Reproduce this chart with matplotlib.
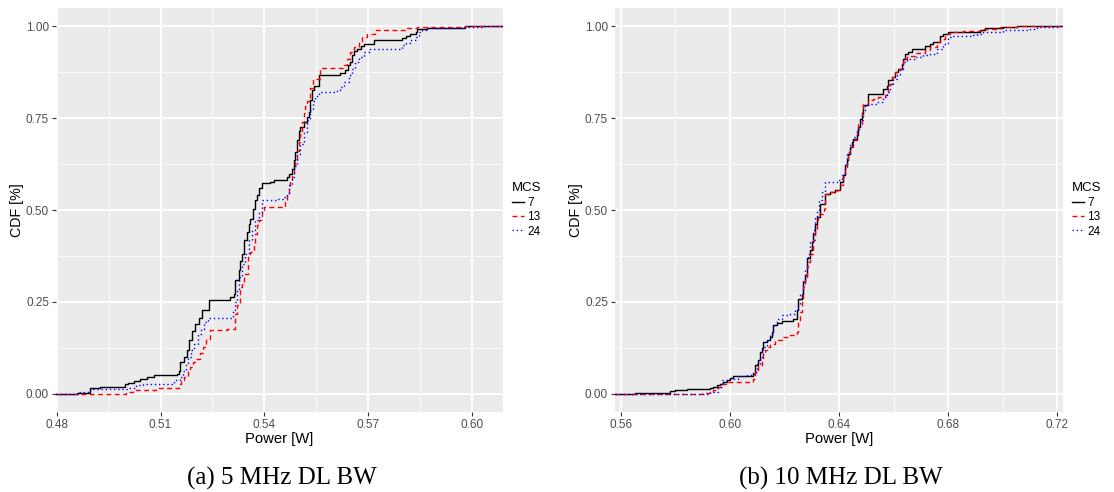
import matplotlib
matplotlib.use("Agg")
import matplotlib.pyplot as plt
from matplotlib.ticker import FixedLocator

plt.rcParams["font.family"] = ["Liberation Sans", "DejaVu Sans"]

# ECDF steps: (power [W], cdf)
mcs = ["7", "13", "24"]

bw5_mcs7 = [
    (0.4858, 0.003), (0.4896, 0.014), (0.4924, 0.018), (0.4998, 0.025), (0.5007, 0.030),
    (0.5022, 0.035), (0.5041, 0.040), (0.5060, 0.045), (0.5080, 0.050), (0.5147, 0.054),
    (0.5152, 0.063), (0.5157, 0.086), (0.5167, 0.100), (0.5176, 0.120), (0.5181, 0.145),
    (0.5191, 0.170), (0.5200, 0.190), (0.5210, 0.207), (0.5220, 0.229), (0.5239, 0.254),
    (0.5302, 0.262), (0.5311, 0.270), (0.5316, 0.309), (0.5326, 0.336), (0.5331, 0.360),
    (0.5335, 0.381), (0.5342, 0.417), (0.5350, 0.440), (0.5355, 0.462), (0.5359, 0.476),
    (0.5366, 0.504), (0.5374, 0.526), (0.5379, 0.540), (0.5384, 0.561), (0.5393, 0.573),
    (0.5417, 0.577), (0.5427, 0.581), (0.5466, 0.590), (0.5470, 0.599), (0.5480, 0.612),
    (0.5485, 0.635), (0.5490, 0.658), (0.5494, 0.690), (0.5499, 0.715), (0.5504, 0.725),
    (0.5514, 0.740), (0.5523, 0.753), (0.5528, 0.767), (0.5533, 0.800), (0.5538, 0.826),
    (0.5543, 0.839), (0.5557, 0.868), (0.5620, 0.873), (0.5634, 0.880), (0.5641, 0.894),
    (0.5647, 0.903), (0.5654, 0.921), (0.5658, 0.932), (0.5668, 0.939), (0.5678, 0.946),
    (0.5687, 0.953), (0.5718, 0.962), (0.5798, 0.968), (0.5808, 0.975), (0.5822, 0.980),
    (0.5837, 0.986), (0.5842, 0.993), (0.5871, 0.996), (0.5981, 1.000),
]

bw5_mcs13 = [
    (0.5001, 0.005), (0.5020, 0.009), (0.5087, 0.014), (0.5126, 0.016), (0.5155, 0.027),
    (0.5160, 0.036), (0.5169, 0.045), (0.5179, 0.063), (0.5184, 0.072), (0.5193, 0.086),
    (0.5203, 0.095), (0.5213, 0.110), (0.5222, 0.127), (0.5232, 0.150), (0.5242, 0.172),
    (0.5293, 0.177), (0.5314, 0.218), (0.5321, 0.240), (0.5330, 0.290), (0.5335, 0.305),
    (0.5340, 0.327), (0.5354, 0.372), (0.5359, 0.385), (0.5369, 0.408), (0.5374, 0.436),
    (0.5379, 0.458), (0.5384, 0.472), (0.5393, 0.499), (0.5398, 0.508), (0.5461, 0.522),
    (0.5466, 0.540), (0.5470, 0.562), (0.5475, 0.580), (0.5480, 0.594), (0.5485, 0.612),
    (0.5490, 0.635), (0.5494, 0.662), (0.5499, 0.685), (0.5504, 0.708), (0.5509, 0.740),
    (0.5514, 0.765), (0.5518, 0.783), (0.5523, 0.798), (0.5531, 0.832), (0.5542, 0.858),
    (0.5560, 0.887), (0.5629, 0.894), (0.5639, 0.912), (0.5649, 0.930), (0.5658, 0.944),
    (0.5673, 0.957), (0.5683, 0.971), (0.5697, 0.980), (0.5721, 0.989), (0.5798, 0.991),
    (0.5813, 0.995), (0.5842, 0.998), (0.5981, 1.000),
]

bw5_mcs24 = [
    (0.4861, 0.005), (0.4894, 0.009), (0.4899, 0.012), (0.5010, 0.014), (0.5029, 0.023),
    (0.5049, 0.027), (0.5140, 0.036), (0.5155, 0.045), (0.5165, 0.063), (0.5174, 0.082),
    (0.5179, 0.100), (0.5189, 0.118), (0.5198, 0.136), (0.5208, 0.163), (0.5218, 0.177),
    (0.5227, 0.195), (0.5237, 0.207), (0.5309, 0.227), (0.5314, 0.249), (0.5320, 0.280),
    (0.5326, 0.318), (0.5335, 0.354), (0.5345, 0.381), (0.5355, 0.417), (0.5364, 0.445),
    (0.5374, 0.472), (0.5384, 0.494), (0.5393, 0.526), (0.5436, 0.530), (0.5456, 0.535),
    (0.5466, 0.545), (0.5470, 0.567), (0.5480, 0.590), (0.5485, 0.621), (0.5494, 0.653),
    (0.5504, 0.680), (0.5514, 0.712), (0.5523, 0.744), (0.5533, 0.771), (0.5542, 0.798),
    (0.5547, 0.810), (0.5557, 0.821), (0.5610, 0.826), (0.5620, 0.835), (0.5629, 0.848),
    (0.5644, 0.867), (0.5654, 0.885), (0.5663, 0.903), (0.5673, 0.917), (0.5687, 0.930),
    (0.5702, 0.939), (0.5798, 0.948), (0.5808, 0.955), (0.5822, 0.962), (0.5837, 0.971),
    (0.5846, 0.985), (0.5856, 0.991), (0.5871, 0.995), (0.5977, 0.997), (0.6030, 1.000),
]

bw10_mcs7 = [
    (0.5653, 0.003), (0.5781, 0.007), (0.5799, 0.009), (0.5842, 0.012), (0.5927, 0.015),
    (0.5939, 0.018), (0.5952, 0.023), (0.5964, 0.027), (0.5976, 0.032), (0.5988, 0.036),
    (0.6001, 0.043), (0.6013, 0.047), (0.6031, 0.049), (0.6086, 0.054), (0.6092, 0.077),
    (0.6104, 0.091), (0.6110, 0.113), (0.6117, 0.123), (0.6123, 0.141), (0.6135, 0.145),
    (0.6147, 0.154), (0.6153, 0.168), (0.6159, 0.186), (0.6171, 0.191), (0.6190, 0.198),
    (0.6233, 0.204), (0.6245, 0.227), (0.6251, 0.259), (0.6263, 0.272), (0.6269, 0.304),
    (0.6275, 0.322), (0.6281, 0.368), (0.6293, 0.390), (0.6300, 0.413), (0.6306, 0.436),
    (0.6312, 0.463), (0.6318, 0.481), (0.6330, 0.517), (0.6349, 0.544), (0.6367, 0.549),
    (0.6385, 0.555), (0.6403, 0.576), (0.6416, 0.594), (0.6422, 0.622), (0.6428, 0.635),
    (0.6434, 0.653), (0.6440, 0.672), (0.6446, 0.685), (0.6452, 0.694), (0.6465, 0.703),
    (0.6471, 0.726), (0.6477, 0.749), (0.6483, 0.762), (0.6489, 0.785), (0.6507, 0.817),
    (0.6562, 0.830), (0.6574, 0.839), (0.6581, 0.853), (0.6593, 0.862), (0.6605, 0.876),
    (0.6617, 0.885), (0.6629, 0.898), (0.6635, 0.912), (0.6642, 0.926), (0.6654, 0.930),
    (0.6666, 0.939), (0.6715, 0.946), (0.6733, 0.953), (0.6745, 0.957), (0.6770, 0.975),
    (0.6782, 0.980), (0.6800, 0.984), (0.6916, 0.991), (0.6935, 0.996), (0.7002, 0.998),
    (0.7051, 1.000),
]

bw10_mcs13 = [
    (0.5897, 0.003), (0.5927, 0.005), (0.5939, 0.009), (0.5958, 0.018), (0.5970, 0.027),
    (0.5988, 0.032), (0.6086, 0.041), (0.6092, 0.064), (0.6104, 0.077), (0.6117, 0.095),
    (0.6123, 0.109), (0.6129, 0.118), (0.6135, 0.127), (0.6147, 0.136), (0.6165, 0.145),
    (0.6190, 0.154), (0.6220, 0.159), (0.6245, 0.168), (0.6251, 0.200), (0.6257, 0.222),
    (0.6263, 0.254), (0.6269, 0.290), (0.6275, 0.309), (0.6281, 0.345), (0.6287, 0.358),
    (0.6293, 0.381), (0.6306, 0.417), (0.6312, 0.445), (0.6318, 0.472), (0.6324, 0.490),
    (0.6343, 0.504), (0.6349, 0.544), (0.6367, 0.549), (0.6391, 0.555), (0.6403, 0.567),
    (0.6416, 0.590), (0.6422, 0.617), (0.6428, 0.640), (0.6434, 0.658), (0.6440, 0.672),
    (0.6452, 0.690), (0.6465, 0.712), (0.6471, 0.735), (0.6483, 0.767), (0.6489, 0.789),
    (0.6507, 0.799), (0.6526, 0.803), (0.6544, 0.808), (0.6568, 0.812), (0.6581, 0.844),
    (0.6593, 0.862), (0.6605, 0.876), (0.6617, 0.885), (0.6629, 0.898), (0.6635, 0.912),
    (0.6648, 0.918), (0.6678, 0.927), (0.6715, 0.935), (0.6733, 0.944), (0.6758, 0.957),
    (0.6770, 0.966), (0.6788, 0.980), (0.6806, 0.984), (0.6855, 0.987), (0.6922, 0.993),
    (0.6990, 0.998), (0.7051, 1.000),
]

bw10_mcs24 = [
    (0.5927, 0.005), (0.5958, 0.018), (0.5970, 0.036), (0.5988, 0.039), (0.6007, 0.041),
    (0.6031, 0.047), (0.6062, 0.050), (0.6086, 0.059), (0.6098, 0.082), (0.6110, 0.100),
    (0.6123, 0.127), (0.6135, 0.145), (0.6147, 0.163), (0.6159, 0.186), (0.6171, 0.204),
    (0.6190, 0.213), (0.6220, 0.218), (0.6239, 0.227), (0.6251, 0.245), (0.6257, 0.272),
    (0.6269, 0.309), (0.6275, 0.336), (0.6281, 0.363), (0.6287, 0.381), (0.6293, 0.413),
    (0.6306, 0.445), (0.6312, 0.481), (0.6318, 0.499), (0.6328, 0.526), (0.6336, 0.549),
    (0.6349, 0.576), (0.6391, 0.583), (0.6410, 0.594), (0.6422, 0.626), (0.6428, 0.653),
    (0.6440, 0.681), (0.6452, 0.699), (0.6465, 0.721), (0.6477, 0.744), (0.6489, 0.767),
    (0.6495, 0.782), (0.6507, 0.789), (0.6538, 0.794), (0.6562, 0.808), (0.6574, 0.821),
    (0.6587, 0.844), (0.6599, 0.858), (0.6611, 0.867), (0.6623, 0.885), (0.6635, 0.903),
    (0.6648, 0.912), (0.6678, 0.917), (0.6709, 0.921), (0.6733, 0.926), (0.6758, 0.939),
    (0.6782, 0.953), (0.6800, 0.971), (0.6812, 0.973), (0.6892, 0.976), (0.6904, 0.980),
    (0.6928, 0.984), (0.7002, 0.989), (0.7099, 0.993), (0.7124, 0.998), (0.7209, 1.000),
]

panels = [
    {
        "series": [bw5_mcs7, bw5_mcs13, bw5_mcs24],
        "xlim": (0.4798, 0.6090),
        "xticks": [0.48, 0.51, 0.54, 0.57, 0.60],
        "xminor": [0.495, 0.525, 0.555, 0.585],
        "caption": "(a) 5 MHz DL BW",
        "rect": [0.0503, 0.1626, 0.4013, 0.8211],
    },
    {
        "series": [bw10_mcs7, bw10_mcs13, bw10_mcs24],
        "xlim": (0.5579, 0.7221),
        "xticks": [0.56, 0.60, 0.64, 0.68, 0.72],
        "xminor": [0.58, 0.62, 0.66, 0.70],
        "caption": "(b) 10 MHz DL BW",
        "rect": [0.5521, 0.1626, 0.4022, 0.8211],
    },
]

yticks = [0.0, 0.25, 0.50, 0.75, 1.00]
yminor = [0.125, 0.375, 0.625, 0.875]

colors = ["black", "#FF0000", "#0000FF"]
styles = ["-", (0, (3.5, 2.5)), (0, (1, 2))]

fig = plt.figure(figsize=(11.14, 4.92), dpi=100)

for p in panels:
    ax = fig.add_axes(p["rect"])
    ax.set_facecolor("#EBEBEB")
    ax.set_xlim(*p["xlim"])
    ax.set_ylim(-0.05, 1.05)
    x0, x1 = ax.get_xlim()

    for steps, lab, c, ls in zip(p["series"], mcs, colors, styles):
        xs = [x0] + [s[0] for s in steps] + [x1]
        ys = [0.0] + [s[1] for s in steps] + [1.0]
        ax.step(xs, ys, where="post", color=c, linestyle=ls, lw=1.0, label=lab)

    ax.xaxis.set_major_locator(FixedLocator(p["xticks"]))
    ax.xaxis.set_minor_locator(FixedLocator(p["xminor"]))
    ax.yaxis.set_major_locator(FixedLocator(yticks))
    ax.yaxis.set_minor_locator(FixedLocator(yminor))
    ax.set_xticklabels([f"{t:.2f}" for t in p["xticks"]])
    ax.set_yticklabels([f"{t:.2f}" for t in yticks])

    ax.grid(which="major", color="white", lw=1.3)
    ax.grid(which="minor", color="white", lw=0.6)
    ax.set_axisbelow(True)
    for sp in ax.spines.values():
        sp.set_visible(False)

    ax.tick_params(which="major", length=3, width=0.8, color="#333333",
                   labelsize=8.5, labelcolor="#4D4D4D", pad=2)
    ax.tick_params(which="minor", length=0)

    ax.set_xlabel("Power [W]", fontsize=10.7, labelpad=1)
    ax.set_ylabel("CDF [%]", fontsize=10.3, labelpad=1.5)

    leg = ax.legend(title="MCS", loc="center left", bbox_to_anchor=(1.01, 0.5),
                    frameon=False, fontsize=8.5, title_fontsize=9.5,
                    handlelength=1.0, handletextpad=0.25, labelspacing=0.2,
                    borderaxespad=0.2, borderpad=0.2, alignment="left")

    r = p["rect"]
    fig.text(r[0] + r[2] / 2 + 0.002, 0.016, p["caption"], ha="center", va="baseline",
             fontsize=18, family="Liberation Serif")

fig.savefig("out.png", dpi=100)
